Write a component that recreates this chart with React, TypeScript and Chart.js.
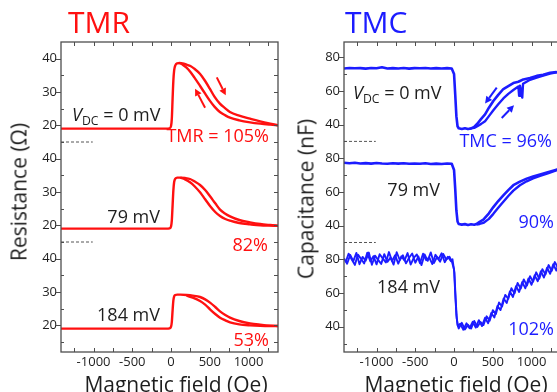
import React, { useEffect, useRef } from 'react';
import { Chart, registerables } from 'chart.js';

Chart.register(...registerables);

const FONT = '"Open Sans", "DejaVu Sans", sans-serif';
const RED = '#ff1010';
const BLUE = '#1c1cff';
const INK = '#1e1e1e';
const FRAME = '#4e4e4e';

// ---------- shared x axis (magnetic field, Oe) ----------
const FIELD_MIN = -1420;
const FIELD_MAX = 1380;
const FIELD_TICKS = [-1250, -1000, -750, -500, -250, 0, 250, 500, 750, 1000, 1250];
const FIELD_TICK_LABELS = [-1000, -500, 0, 500, 1000];

// ---------- TMR (resistance, ohm) ----------
const TMR_PANEL_OFFSETS = [60, 30, 0]; // 0 mV, 79 mV, 184 mV stacked
const TMR_Y_MIN = 12;
const TMR_Y_MAX = 105;
const TMR_Y_TICKS = [15, 20, 25, 30, 35, 40, 45, 50, 55, 60, 65, 70, 75, 80, 85, 90, 95, 100];

const TMR0_H = [-1420, -1000, -500, -60, -20, 0, 10, 20, 30, 40, 55, 80, 110, 150, 200, 250, 300, 375, 440, 500, 560, 630, 700, 760, 880, 1020, 1150, 1280, 1380];
const TMR0_R = [19, 19, 19, 19, 19.1, 19.8, 22, 28, 33.5, 36.5, 38, 38.6, 38.7, 38.6, 38.2, 37.8, 37, 35.4, 33.3, 31, 28.6, 26.5, 25.1, 24, 22.9, 22, 21.2, 20.5, 20];
const TMR0_RET_H = [110, 150, 200, 250, 300, 375, 440, 500, 560, 630, 700, 760, 880, 1020, 1150, 1280, 1380];
const TMR0_RET_R = [38.7, 38.2, 37.3, 36.0, 34.4, 31.8, 29.5, 27.4, 25.6, 24.0, 23.0, 22.3, 21.5, 20.9, 20.5, 20.2, 20.0];

const TMR79_H = [-1420, -1000, -500, -60, -20, 0, 10, 20, 30, 40, 55, 80, 120, 180, 245, 300, 374, 440, 503, 570, 632, 700, 761, 880, 1019, 1150, 1277, 1380];
const TMR79_R = [19, 19, 19, 19, 19.1, 19.7, 21.5, 26, 30.5, 33, 34, 34.3, 34.3, 34.2, 33.9, 33.2, 32.1, 30.6, 28.7, 26.6, 24.7, 23.5, 22.7, 21.6, 20.9, 20.4, 20.1, 19.9];
const TMR79_RET_H = [120, 180, 245, 300, 374, 440, 503, 570, 632, 700, 761, 880, 1019, 1150, 1277, 1380];
const TMR79_RET_R = [34.3, 33.8, 32.9, 31.8, 29.9, 27.8, 25.8, 24.0, 22.8, 21.9, 21.4, 20.7, 20.3, 20.0, 19.9, 19.85];

const TMR184_H = [-1420, -1000, -500, -60, -20, 0, 10, 20, 30, 40, 55, 80, 120, 200, 280, 374, 440, 503, 570, 632, 700, 761, 880, 1019, 1150, 1277, 1380];
const TMR184_R = [19, 19, 19, 19, 19.1, 19.6, 21, 24.5, 27.5, 28.7, 29.1, 29.2, 29.2, 29.1, 28.9, 28.5, 27.8, 26.8, 25.5, 24.2, 23.1, 22.3, 21.3, 20.6, 20.2, 19.9, 19.8];
const TMR184_RET_H = [200, 280, 374, 440, 503, 570, 632, 700, 761, 880, 1019, 1150, 1277, 1380];
const TMR184_RET_R = [28.9, 28.3, 27.3, 26.2, 24.8, 23.4, 22.3, 21.5, 20.9, 20.3, 20.0, 19.85, 19.8, 19.8];

const TMR_DASH_H = [-1420, -1010];
const TMR_DASH_R = [15, 15];
const TMR_ARROWS = [
  { from: [590, 34.4], to: [706, 29.0] },
  { from: [439, 25.3], to: [310, 31.0] },
];

// ---------- TMC (capacitance, nF) ----------
const TMC_PANEL_OFFSETS = [120, 60, 0];
const TMC_Y_MIN = 25;
const TMC_Y_MAX = 209;
const TMC_Y_TICKS = [30, 40, 50, 60, 70, 80, 90, 100, 110, 120, 130, 140, 150, 160, 170, 180, 190, 200];

const TMC0_H = [-1420, -1350, -1280, -1210, -1140, -1070, -1000, -930, -860, -790, -720, -650, -580, -510, -440, -370, -300, -230, -160, -90, -30,
  0, 15, 30, 45, 60, 100, 140, 180, 220,
  260, 300, 350, 400, 450, 507, 570, 636, 700, 765, 830, 894, 980, 1067, 1150, 1239, 1320, 1380];
const TMC0_C = [73.3, 73.6, 73.4, 73.5, 73.2, 73.6, 73.4, 74.0, 73.3, 73.5, 73.3, 73.6, 73.2, 73.5, 73.4, 73.6, 73.3, 73.5, 73.3, 73.5, 73.3,
  70, 58, 45, 39, 37.8, 37.4, 37.8, 37.3, 37.7,
  38.6, 40.5, 43.4, 46.0, 50.0, 54.0, 57.6, 61.1, 62.8, 64.6, 65.4, 66.8, 67.6, 68.9, 69.5, 70.7, 71.1, 71.7];
const TMC0_RET_H = [200, 260, 300, 350, 400, 450, 507, 570, 636, 700, 765, 830, 840, 850, 880, 890, 930, 980, 1067, 1150, 1239, 1320, 1380];
const TMC0_RET_C = [37.6, 38.0, 39.0, 40.4, 42.0, 45.0, 48.5, 52.0, 55.5, 58.2, 60.5, 62.6, 57.0, 63.0, 56.0, 64.2, 65.3, 66.6, 67.8, 69.0, 70.2, 71.0, 71.4];

const TMC79_H = [-1420, -1350, -1280, -1210, -1140, -1070, -1000, -930, -860, -790, -720, -650, -580, -510, -440, -370, -300, -230, -160, -90, -30,
  0, 15, 30, 45, 60, 100, 140, 180, 220, 260, 290,
  330, 378, 450, 507, 570, 636, 700, 765, 850, 937, 1020, 1110, 1220, 1300, 1380];
const TMC79_C = [77.3, 77.0, 77.3, 76.9, 77.1, 76.8, 77.2, 76.9, 76.7, 77.0, 76.8, 77.0, 76.7, 76.9, 76.7, 77.0, 76.6, 76.8, 76.6, 76.9, 76.7,
  73, 62, 49, 42.5, 41, 40.6, 40.9, 40.4, 40.8, 40.5, 41.0,
  42.3, 43.6, 47.3, 51.0, 54.6, 58.0, 61.1, 64.0, 66.1, 67.9, 69.2, 70.4, 71.8, 72.9, 74.0];
const TMC79_RET_H = [290, 330, 378, 450, 507, 570, 636, 700, 765, 850, 937, 1020, 1110, 1220, 1300, 1380];
const TMC79_RET_C = [40.7, 41.0, 41.6, 44.0, 47.0, 50.6, 54.2, 57.6, 60.8, 64.0, 66.3, 68.0, 69.5, 71.2, 72.5, 73.8];

const TMC184_H = [-1420, -1380, -1340, -1300, -1260, -1220, -1180, -1140, -1100, -1060, -1020, -980, -940, -900, -860, -820, -780, -740, -700, -660, -620, -580, -540, -500, -460, -420, -380, -340, -300, -260, -220, -180, -140, -100, -60,
  -30, 0, 15, 30, 45,
  60, 100, 140, 180, 220, 260, 300, 340, 380, 420, 460, 500, 540, 580, 620, 660, 700, 740, 780, 820, 860, 900, 940, 980, 1020, 1060, 1100, 1140, 1180, 1220, 1260, 1300, 1340, 1380];
const TMC184_C = [80.5, 77.4, 82.6, 78.9, 83.8, 77.1, 81.4, 79.2, 84.0, 76.8, 82.2, 79.7, 77.3, 83.1, 78.5, 81.0, 76.9, 84.2, 79.6, 82.4, 77.6, 80.9, 83.5, 78.0, 81.7, 76.6, 82.9, 79.1, 84.1, 77.8, 81.3, 78.6, 83.2, 79.9, 81.6,
  79, 74, 60, 47, 41,
  39.0, 42.3, 38.4, 41.1, 38.9, 43.4, 39.9, 42.8, 41.0, 46.2, 43.6, 49.8, 47.5, 54.4, 52.0, 58.9, 56.6, 62.9, 59.8, 66.0, 62.6, 68.1, 64.4, 70.0, 66.7, 72.3, 68.5, 74.2, 71.0, 76.6, 73.1, 78.4, 75.0, 79.6];
const TMC184_RET_H = [-1400, -1360, -1320, -1280, -1240, -1200, -1160, -1120, -1080, -1040, -1000, -960, -920, -880, -840, -800, -760, -720, -680, -640, -600, -560, -520, -480, -440, -400, -360, -320, -280, -240, -200, -160, -120, -80, -40,
  -20, 5, 20, 35, 50,
  80, 120, 160, 200, 240, 280, 320, 360, 400, 440, 480, 520, 560, 600, 640, 680, 720, 760, 800, 840, 880, 920, 960, 1000, 1040, 1080, 1120, 1160, 1200, 1240, 1280, 1320, 1360];
const TMC184_RET_C = [78.2, 83.4, 79.9, 76.7, 82.8, 80.3, 77.5, 83.9, 78.8, 81.9, 77.0, 83.0, 80.6, 78.1, 84.3, 79.0, 82.5, 77.4, 81.8, 79.3, 83.7, 76.9, 80.8, 82.9, 77.7, 83.3, 79.5, 81.1, 77.2, 82.7, 80.1, 83.6, 78.3, 81.5, 78.9,
  80, 72, 57, 45, 40.5,
  41.8, 38.2, 42.0, 39.1, 42.9, 39.5, 43.9, 40.4, 45.3, 42.1, 48.2, 45.5, 52.3, 49.9, 56.8, 54.1, 60.9, 57.7, 64.1, 60.6, 66.5, 62.8, 68.6, 64.9, 70.5, 67.0, 72.9, 69.2, 75.0, 71.4, 77.1, 73.3, 78.9];

const TMC_DASH_H = [-1420, -1010];
const TMC_DASH_C = [30, 30];
const TMC_ARROWS = [
  { from: [551, 61.9], to: [400, 52.5] },
  { from: [615, 43.9], to: [774, 51.5] },
];

// ---------- helpers ----------
function series(h: number[], v: number[], off: number, color: string, width: number, smooth: boolean, dash?: number[]) {
  return {
    data: h.map((x, i) => ({ x, y: v[i] + off })),
    borderColor: color,
    borderWidth: width,
    borderDash: dash || [],
    pointRadius: 0,
    fill: false,
    tension: 0,
    cubicInterpolationMode: smooth ? 'monotone' : 'default',
    borderJoinStyle: 'round',
  };
}

type Arrow = { from: number[]; to: number[] };

function makeDeco(arrows: Arrow[], arrowOffset: number, arrowColor: string, isMajorY: (v: number) => boolean) {
  return {
    id: 'deco',
    afterDatasetsDraw(chart: any) {
      const { ctx, chartArea: a, scales } = chart;
      const x = scales.x;
      const y = scales.y;
      ctx.save();
      ctx.strokeStyle = arrowColor;
      ctx.fillStyle = arrowColor;
      ctx.lineWidth = 2;
      ctx.setLineDash([]);
      for (const ar of arrows) {
        const x1 = x.getPixelForValue(ar.from[0]);
        const y1 = y.getPixelForValue(ar.from[1] + arrowOffset);
        const x2 = x.getPixelForValue(ar.to[0]);
        const y2 = y.getPixelForValue(ar.to[1] + arrowOffset);
        const ang = Math.atan2(y2 - y1, x2 - x1);
        const hl = 7;
        const hw = 3.6;
        const bx = x2 - hl * Math.cos(ang);
        const by = y2 - hl * Math.sin(ang);
        ctx.beginPath();
        ctx.moveTo(x1, y1);
        ctx.lineTo(bx, by);
        ctx.stroke();
        ctx.beginPath();
        ctx.moveTo(x2, y2);
        ctx.lineTo(bx + hw * Math.sin(ang), by - hw * Math.cos(ang));
        ctx.lineTo(bx - hw * Math.sin(ang), by + hw * Math.cos(ang));
        ctx.closePath();
        ctx.fill();
      }
      ctx.strokeStyle = FRAME;
      ctx.lineWidth = 1.3;
      ctx.strokeRect(a.left, a.top, a.right - a.left, a.bottom - a.top);
      ctx.lineWidth = 1;
      ctx.beginPath();
      for (const t of x.ticks) {
        const px = Math.round(x.getPixelForValue(t.value)) + 0.5;
        if (px < a.left + 2 || px > a.right - 2) continue;
        ctx.moveTo(px, a.top);
        ctx.lineTo(px, a.top + 4);
        ctx.moveTo(px, a.bottom);
        ctx.lineTo(px, a.bottom - 4);
      }
      for (const t of y.ticks) {
        const py = Math.round(y.getPixelForValue(t.value)) + 0.5;
        if (py < a.top + 2 || py > a.bottom - 2) continue;
        if (isMajorY(t.value)) {
          ctx.moveTo(a.left - 5, py);
          ctx.lineTo(a.left, py);
        } else {
          ctx.moveTo(a.left, py);
          ctx.lineTo(a.left + 3, py);
        }
        ctx.moveTo(a.right, py);
        ctx.lineTo(a.right - 4, py);
      }
      ctx.stroke();
      ctx.restore();
    },
  };
}

function makeConfig(datasets: any[], yMin: number, yMax: number, yTicks: number[], yLabel: (v: number) => string,
  padRight: number, deco: any) {
  const tickFont = { family: FONT, size: 13 };
  return {
    type: 'line',
    data: { datasets },
    options: {
      animation: false,
      responsive: false,
      devicePixelRatio: 1,
      events: [],
      layout: { padding: { top: 42, left: 0, right: padRight, bottom: 0 } },
      plugins: { legend: { display: false }, tooltip: { enabled: false }, title: { display: false } },
      scales: {
        x: {
          type: 'linear',
          min: FIELD_MIN,
          max: FIELD_MAX,
          grid: { display: false, drawTicks: false },
          border: { display: false },
          afterBuildTicks: (s: any) => { s.ticks = FIELD_TICKS.map((value) => ({ value })); },
          ticks: {
            autoSkip: false,
            maxRotation: 0,
            minRotation: 0,
            padding: 2,
            color: INK,
            font: tickFont,
            callback: (v: number) => (FIELD_TICK_LABELS.includes(v) ? String(v) : ''),
          },
          afterFit: (s: any) => { s.height = 40; },
        },
        y: {
          type: 'linear',
          min: yMin,
          max: yMax,
          grid: { display: false, drawTicks: false },
          border: { display: false },
          afterBuildTicks: (s: any) => { s.ticks = yTicks.map((value) => ({ value })); },
          ticks: {
            autoSkip: false,
            padding: 4,
            color: INK,
            font: tickFont,
            callback: (v: number) => yLabel(v),
          },
          afterFit: (s: any) => { s.width = 61; },
        },
      },
    },
    plugins: [deco],
  };
}

const tmrMajor = (v: number) => v % 10 === 0 && v >= 20;
const tmrLabel = (v: number) => (tmrMajor(v) ? String(((v - 20) % 30) + 20) : '');
const tmcMajor = (v: number) => v % 20 === 0 && v >= 40;
const tmcLabel = (v: number) => (tmcMajor(v) ? String(((v - 40) % 60) + 40) : '');

function Txt(props: { x: number; top: number; size: number; color: string; align?: 'left' | 'right'; children: any }) {
  const style: any = {
    position: 'absolute',
    top: props.top,
    fontFamily: FONT,
    fontSize: props.size,
    lineHeight: 1,
    color: props.color,
    whiteSpace: 'nowrap',
  };
  if (props.align === 'right') style.right = 557 - props.x;
  else style.left = props.x;
  return <div style={style}>{props.children}</div>;
}

function VDC() {
  return (
    <>
      <span style={{ fontStyle: 'italic' }}>V</span>
      <span style={{ fontSize: '0.68em', position: 'relative', top: '0.32em' }}>DC</span>
      {' = 0 mV'}
    </>
  );
}

export default function App() {
  const leftRef = useRef<HTMLCanvasElement>(null);
  const rightRef = useRef<HTMLCanvasElement>(null);

  useEffect(() => {
    const [o0, o1, o2] = TMR_PANEL_OFFSETS;
    const tmrSets = [
      series(TMR0_H, TMR0_R, o0, RED, 2.4, true),
      series(TMR0_RET_H, TMR0_RET_R, o0, RED, 2.4, true),
      series(TMR79_H, TMR79_R, o1, RED, 2.4, true),
      series(TMR79_RET_H, TMR79_RET_R, o1, RED, 2.4, true),
      series(TMR184_H, TMR184_R, o2, RED, 2.4, true),
      series(TMR184_RET_H, TMR184_RET_R, o2, RED, 2.4, true),
      series(TMR_DASH_H, TMR_DASH_R, o0, '#555', 1, false, [3, 2]),
      series(TMR_DASH_H, TMR_DASH_R, o1, '#555', 1, false, [3, 2]),
    ];
    const [c0, c1, c2] = TMC_PANEL_OFFSETS;
    const tmcSets = [
      series(TMC0_H, TMC0_C, c0, BLUE, 2.6, false),
      series(TMC0_RET_H, TMC0_RET_C, c0, BLUE, 2.4, false),
      series(TMC79_H, TMC79_C, c1, BLUE, 2.6, false),
      series(TMC79_RET_H, TMC79_RET_C, c1, BLUE, 2.4, false),
      series(TMC184_H, TMC184_C, c2, BLUE, 1.9, false),
      series(TMC184_RET_H, TMC184_RET_C, c2, BLUE, 1.9, false),
      series(TMC_DASH_H, TMC_DASH_C, c0, '#555', 1, false, [3, 2]),
      series(TMC_DASH_H, TMC_DASH_C, c1, '#555', 1, false, [3, 2]),
    ];
    const left = new Chart(leftRef.current as HTMLCanvasElement, makeConfig(tmrSets, TMR_Y_MIN, TMR_Y_MAX, TMR_Y_TICKS, tmrLabel, 12,
      makeDeco(TMR_ARROWS, o0, RED, tmrMajor)) as any);
    const right = new Chart(rightRef.current as HTMLCanvasElement, makeConfig(tmcSets, TMC_Y_MIN, TMC_Y_MAX, TMC_Y_TICKS, tmcLabel, 22,
      makeDeco(TMC_ARROWS, c0, BLUE, tmcMajor)) as any);
    return () => {
      left.destroy();
      right.destroy();
    };
  }, []);

  const axisTitle = (cx: number, cy: number, text: string, rotate: boolean) => (
    <div
      style={{
        position: 'absolute',
        left: cx,
        top: cy,
        transform: rotate ? 'translate(-50%, -50%) rotate(-90deg)' : 'translate(-50%, -50%)',
        fontFamily: FONT,
        fontSize: 21,
        lineHeight: 1,
        color: INK,
        whiteSpace: 'nowrap',
      }}
    >
      {text}
    </div>
  );

  return (
    <div style={{ position: 'fixed', left: 0, top: 0, width: 557, height: 392, overflow: 'hidden', background: '#fff' }}>
      <canvas ref={leftRef} width={290} height={392} style={{ position: 'absolute', left: 0, top: 0, width: 290, height: 392 }} />
      <canvas ref={rightRef} width={300} height={392} style={{ position: 'absolute', left: 283, top: 0, width: 300, height: 392 }} />

      <Txt x={68} top={7} size={30} color={RED}>TMR</Txt>
      <Txt x={345} top={7} size={30} color={BLUE}>TMC</Txt>

      {axisTitle(19, 192, 'Resistance (\u03A9)', true)}
      {axisTitle(306, 199, 'Capacitance (nF)', true)}
      {axisTitle(176, 384, 'Magnetic field (Oe)', false)}
      {axisTitle(456, 384, 'Magnetic field (Oe)', false)}

      <Txt x={72} top={105} size={18} color={INK}><VDC /></Txt>
      <Txt x={269} top={126} size={18} color={RED} align="right">TMR = 105%</Txt>
      <Txt x={160} top={207} size={18} color={INK} align="right">79 mV</Txt>
      <Txt x={268} top={235} size={18} color={RED} align="right">82%</Txt>
      <Txt x={160} top={305} size={18} color={INK} align="right">184 mV</Txt>
      <Txt x={269} top={330} size={18} color={RED} align="right">53%</Txt>

      <Txt x={353} top={83} size={18} color={INK}><VDC /></Txt>
      <Txt x={552} top={131} size={18} color={BLUE} align="right">TMC = 96%</Txt>
      <Txt x={440} top={180} size={18} color={INK} align="right">79 mV</Txt>
      <Txt x={554} top={212} size={18} color={BLUE} align="right">90%</Txt>
      <Txt x={440} top={277} size={18} color={INK} align="right">184 mV</Txt>
      <Txt x={554} top={319} size={18} color={BLUE} align="right">102%</Txt>
    </div>
  );
}
